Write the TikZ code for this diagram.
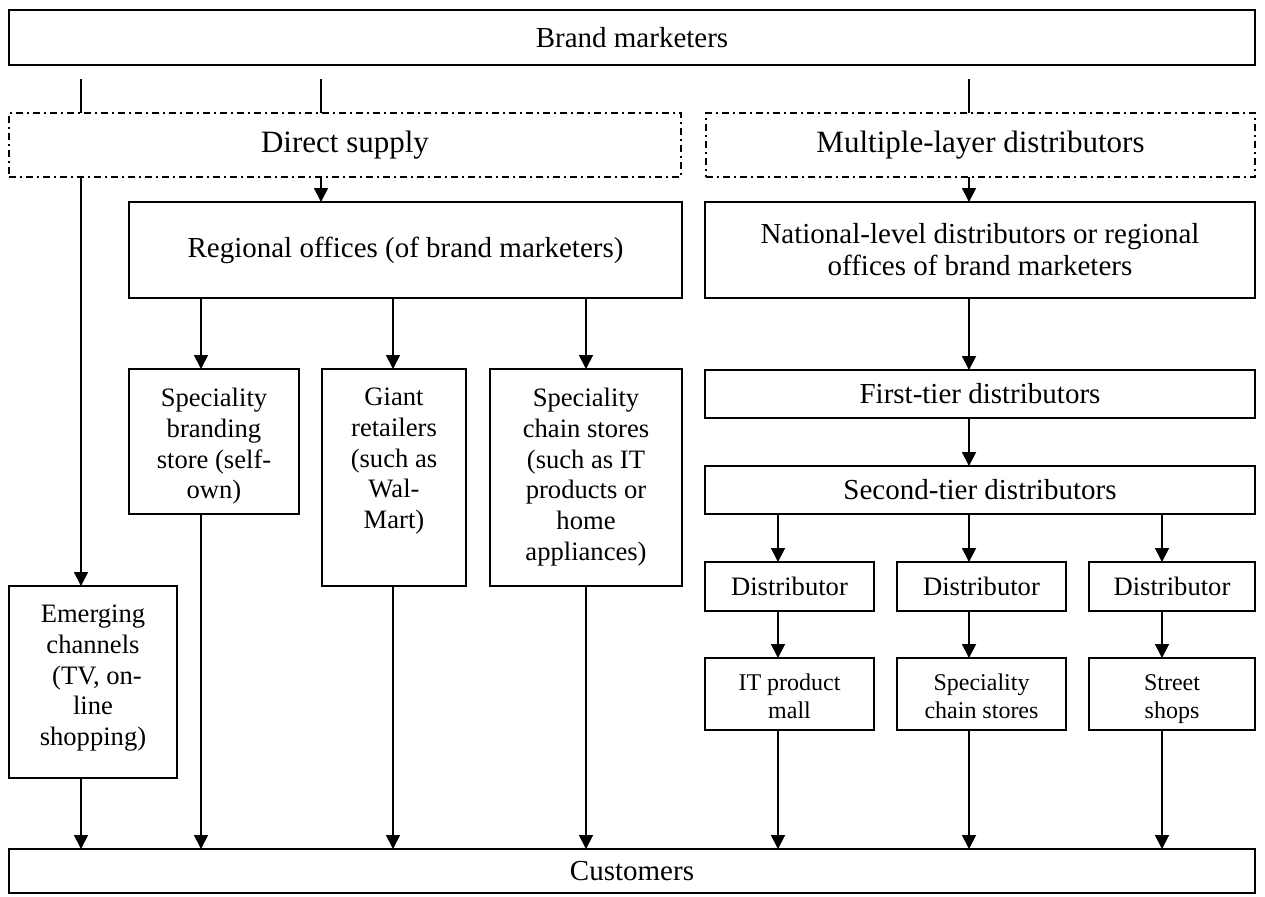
\documentclass[tikz,border=0pt]{standalone}
\usepackage{fontspec}
\setmainfont{Liberation Serif}
\usetikzlibrary{arrows.meta}

% \placebox{style}{name}{x1}{y1}{x2}{y2}{text}: a box spanning the given corners
\newcommand\placebox[7]{%
  \node[#1, minimum width={(#5-#3)*1pt}, minimum height={(#6-#4)*1pt}]
    (#2) at ({(#3+#5)/2}, {(#4+#6)/2}) {#7};}

\begin{document}
\begin{tikzpicture}[x=1pt, y=-1pt,
  frame/.style={draw, line width=1.4pt, inner sep=0pt, outer sep=0pt, align=center},
  dashframe/.style={frame, dash pattern={on 7pt off 4pt on 2pt off 4pt}},
  bigfont/.style={font=\fontsize{31}{36}\selectfont},
  mainfont/.style={font=\fontsize{29}{32}\selectfont},
  colfont/.style={font=\fontsize{26.6}{30.7}\selectfont},
  smallfont/.style={font=\fontsize{24}{28}\selectfont},
  coltext/.style={colfont, align=center, inner sep=0pt, anchor=north},
  smalltext/.style={smallfont, align=center, inner sep=0pt, anchor=north},
  arr/.style={line width=1.8pt, -{Triangle[width=14pt,length=14pt]}},
  link/.style={line width=1.3pt},
]
\useasboundingbox (0,0) rectangle (1265,896);

% top and bottom rows
\placebox{frame,mainfont}{brand}{9}{10}{1255}{65}{Brand marketers}
\placebox{frame,mainfont}{cust}{9}{849}{1255}{893}{Customers}

% the two supply routes
\placebox{dashframe,bigfont}{direct}{9}{113}{681}{177}{Direct supply}
\placebox{dashframe,bigfont}{multi}{706}{113}{1255}{177}{Multiple-layer distributors}

% direct supply branch
\placebox{frame,mainfont}{regional}{129}{202}{682}{298}{Regional offices (of brand marketers)}
\placebox{frame}{branding}{129}{369}{299}{514}{}
\placebox{frame}{giant}{322}{369}{466}{586}{}
\placebox{frame}{chain}{490}{369}{682}{586}{}
\placebox{frame}{emerging}{9}{586}{177}{778}{}
\node[coltext] (branding-t) at ([yshift=-19pt]branding.north) {Speciality\\branding\\store (self-\\own)};
\node[coltext] (giant-t) at ([yshift=-19pt]giant.north) {Giant\\retailers\\(such as\\Wal-\\Mart)};
\node[coltext] (chain-t) at ([yshift=-19pt]chain.north) {Speciality\\chain stores\\(such as IT\\products or\\home\\appliances)};
\node[coltext] (emerging-t) at ([yshift=-19pt]emerging.north) {Emerging\\channels\\\hspace*{0.3em}(TV, on-\\line\\shopping)};

% multiple-layer branch
\placebox{frame,mainfont}{national}{705}{202}{1255}{298}{National-level distributors or regional\\offices of brand marketers}
\placebox{frame,mainfont}{first}{705}{370}{1255}{418}{First-tier distributors}
\placebox{frame,mainfont}{second}{705}{466}{1255}{514}{Second-tier distributors}
\placebox{frame,colfont}{dist1}{705}{562}{874}{611}{Distributor}
\placebox{frame,colfont}{dist2}{897}{562}{1066}{611}{Distributor}
\placebox{frame,colfont}{dist3}{1089}{562}{1255}{611}{Distributor}
\placebox{frame}{shop1}{705}{658}{874}{730}{}
\placebox{frame}{shop2}{897}{658}{1066}{730}{}
\placebox{frame}{shop3}{1089}{658}{1255}{730}{}
\node[smalltext] (shop1-t) at ([yshift=-16pt]shop1.north) {IT product\\mall};
\node[smalltext] (shop2-t) at ([yshift=-16pt]shop2.north) {Speciality\\chain stores};
\node[smalltext] (shop3-t) at ([yshift=-16pt]shop3.north) {Street\\shops};

% connector columns
\coordinate (xa) at (81,79);
\coordinate (xb) at (201,0);
\coordinate (xc) at (321,79);
\coordinate (xd) at (393,0);
\coordinate (xe) at (586,0);
\coordinate (xf) at (969,79);
\coordinate (xg) at (778,0);
\coordinate (xi) at (1162,0);

% plain links from the brand marketers
\draw[link] (xa) -- (direct.north -| xa);
\draw[link] (xc) -- (direct.north -| xc);
\draw[link] (xf) -- (multi.north -| xf);

% direct supply arrows
\draw[arr] (direct.south -| xa) -- (emerging.north -| xa);
\draw[arr] (direct.south -| xc) -- (regional.north -| xc);
\draw[arr] (regional.south -| xb) -- (branding.north -| xb);
\draw[arr] (regional.south -| xd) -- (giant.north -| xd);
\draw[arr] (regional.south -| xe) -- (chain.north -| xe);
\draw[arr] (emerging.south -| xa) -- (cust.north -| xa);
\draw[arr] (branding.south -| xb) -- (cust.north -| xb);
\draw[arr] (giant.south -| xd) -- (cust.north -| xd);
\draw[arr] (chain.south -| xe) -- (cust.north -| xe);

% multiple-layer arrows
\draw[arr] (multi.south -| xf) -- (national.north -| xf);
\draw[arr] (national.south -| xf) -- (first.north -| xf);
\draw[arr] (first.south -| xf) -- (second.north -| xf);
\draw[arr] (second.south -| xg) -- (dist1.north -| xg);
\draw[arr] (second.south -| xf) -- (dist2.north -| xf);
\draw[arr] (second.south -| xi) -- (dist3.north -| xi);
\draw[arr] (dist1.south -| xg) -- (shop1.north -| xg);
\draw[arr] (dist2.south -| xf) -- (shop2.north -| xf);
\draw[arr] (dist3.south -| xi) -- (shop3.north -| xi);
\draw[arr] (shop1.south -| xg) -- (cust.north -| xg);
\draw[arr] (shop2.south -| xf) -- (cust.north -| xf);
\draw[arr] (shop3.south -| xi) -- (cust.north -| xi);
\end{tikzpicture}
\end{document}
